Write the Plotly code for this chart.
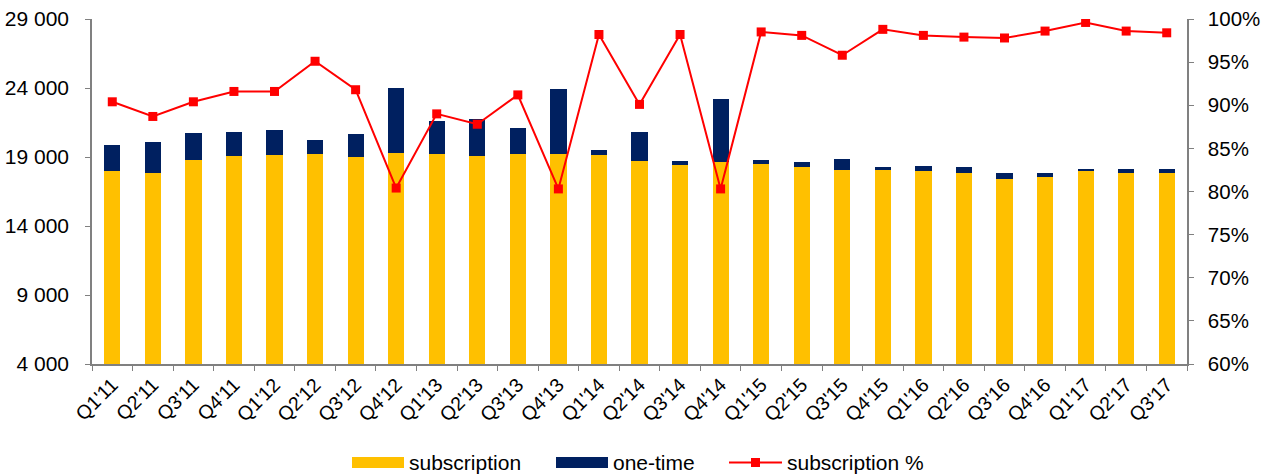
import plotly.graph_objects as go

quarters = ["Q1'11", "Q2'11", "Q3'11", "Q4'11", "Q1'12", "Q2'12", "Q3'12", "Q4'12",
            "Q1'13", "Q2'13", "Q3'13", "Q4'13", "Q1'14", "Q2'14", "Q3'14", "Q4'14",
            "Q1'15", "Q2'15", "Q3'15", "Q4'15", "Q1'16", "Q2'16", "Q3'16", "Q4'16",
            "Q1'17", "Q2'17", "Q3'17"]

subscription = [17990, 17840, 18780, 19040, 19170, 19190, 18970, 19290,
                19220, 19090, 19220, 19240, 19150, 18720, 18390, 18610,
                18490, 18300, 18080, 18080, 18010, 17860, 17430, 17570,
                18010, 17860, 17810]

one_time = [1900, 2270, 1980, 1770, 1760, 1010, 1700, 4710,
            2390, 2680, 1850, 4710, 360, 2060, 340, 4560,
            290, 360, 800, 220, 360, 410, 410, 290,
            120, 270, 320]

subscription_pct = [90.4, 88.7, 90.4, 91.6, 91.6, 95.1, 91.8, 80.4,
                    89.0, 87.8, 91.2, 80.3, 98.2, 90.1, 98.2, 80.3,
                    98.5, 98.1, 95.8, 98.8, 98.1, 97.9, 97.8, 98.6,
                    99.6, 98.6, 98.4]

left_ticks = [4000, 9000, 14000, 19000, 24000, 29000]
left_labels = ["4 000", "9 000", "14 000", "19 000", "24 000", "29 000"]
right_ticks = [60, 65, 70, 75, 80, 85, 90, 95, 100]
right_labels = ["60%", "65%", "70%", "75%", "80%", "85%", "90%", "95%", "100%"]

YELLOW = "#FFC000"
NAVY = "#002060"
RED = "#FF0000"
GREY = "#808080"
FONT = "Liberation Sans, Arial, sans-serif"

W, H = 1269, 476
L, R, T, B = 92, 82, 19, 112

fig = go.Figure()
fig.add_trace(go.Bar(x=quarters, y=subscription, name="subscription",
                     marker=dict(color=YELLOW, line=dict(width=0)), showlegend=False))
fig.add_trace(go.Bar(x=quarters, y=one_time, name="one-time",
                     marker=dict(color=NAVY, line=dict(width=0)), showlegend=False))
fig.add_trace(go.Scatter(x=quarters, y=subscription_pct, name="subscription %", yaxis="y2",
                         mode="lines+markers",
                         line=dict(color=RED, width=2),
                         marker=dict(symbol="square", size=9, color=RED),
                         showlegend=False))

# custom legend (pixel positions -> paper coords)
pw, ph = W - L - R, H - T - B
def px(x):
    return (x - L) / pw
def py(y):
    return (H - B - y) / ph

shapes = [
    dict(type="rect", xref="paper", yref="paper", x0=px(352), x1=px(404), y0=py(468), y1=py(457),
         fillcolor=YELLOW, line=dict(width=0)),
    dict(type="rect", xref="paper", yref="paper", x0=px(556), x1=px(608), y0=py(468), y1=py(457),
         fillcolor=NAVY, line=dict(width=0)),
    dict(type="line", xref="paper", yref="paper", x0=px(729), x1=px(782), y0=py(462.5), y1=py(462.5),
         line=dict(color=RED, width=2)),
    dict(type="rect", xref="paper", yref="paper", x0=px(751), x1=px(760), y0=py(467), y1=py(458),
         fillcolor=RED, line=dict(width=0)),
]
annotations = []
for text, x in [("subscription", 407), ("one-time", 611), ("subscription %", 785)]:
    annotations.append(dict(text=text, xref="paper", yref="paper", x=px(x), y=py(462.5),
                            xanchor="left", yanchor="middle", showarrow=False,
                            font=dict(family=FONT, size=21, color="black")))

fig.update_layout(
    width=W, height=H,
    margin=dict(l=L, r=R, t=T, b=B, autoexpand=False),
    paper_bgcolor="white", plot_bgcolor="white",
    barmode="stack", bargap=0.6,
    font=dict(family=FONT, size=20, color="black"),
    shapes=shapes, annotations=annotations,
    showlegend=False,
    xaxis=dict(type="category", range=[-0.5, len(quarters) - 0.5],
               showline=True, linecolor=GREY, linewidth=1.5,
               ticks="outside", tickson="boundaries", ticklen=5, tickcolor=GREY,
               tickangle=-45, tickfont=dict(size=19.5), showgrid=False, zeroline=False,
               automargin=False),
    yaxis=dict(range=[4000, 29000], tickvals=left_ticks, ticktext=left_labels,
               showline=True, linecolor=GREY, linewidth=1.5, ticks="outside", ticklen=5,
               tickcolor=GREY, showgrid=False, zeroline=False, tickfont=dict(size=21),
               ticklabelstandoff=12, automargin=False),
    yaxis2=dict(range=[60, 100], tickvals=right_ticks, ticktext=right_labels, overlaying="y",
                side="right", showline=True, linecolor=GREY, linewidth=1.5, ticks="outside",
                ticklen=5, tickcolor=GREY, showgrid=False, zeroline=False,
                tickfont=dict(size=20.5), ticklabelstandoff=10, automargin=False),
)

fig.write_html("out.html", config={"displayModeBar": False},
               post_script="document.body.style.margin='0px';")
